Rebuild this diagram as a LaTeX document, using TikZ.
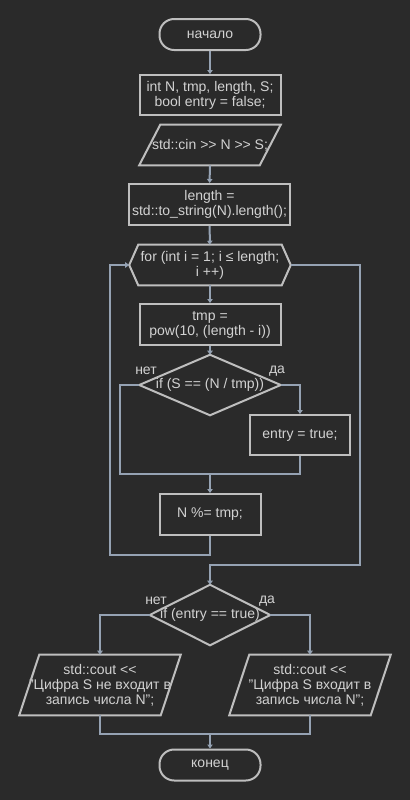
\documentclass[tikz,border=0pt]{standalone}
\usepackage{fontspec}
\setmainfont{Liberation Sans}
\usetikzlibrary{calc,arrows.meta}
\definecolor{bg}{HTML}{2A2A2A}
\definecolor{outline}{HTML}{BEBEBE}
\definecolor{wire}{HTML}{95A2B3}
\definecolor{ink}{HTML}{D2D2D2}
\begin{document}
\begin{tikzpicture}[x=0.75pt,y=-0.75pt,
  every node/.style={text=ink,font=\fontsize{10.5}{11.3}\selectfont,align=center,inner sep=0pt},
  blk/.style={draw=outline,line width=1.5pt,minimum width=#1*0.75pt},
  ghost/.style n args={2}{draw=none,minimum width=#1*0.75pt,minimum height=#2*0.75pt},
  term/.style={draw=outline,line width=1.5pt,rounded corners=11pt,minimum width=101*0.75pt,minimum height=31*0.75pt},
  outl/.style={draw=outline,line width=1.5pt,line join=miter},
  wirel/.style={draw=wire,line width=1.5pt},
  arr/.style={wirel,-{Triangle[length=3pt,width=4pt]}},
  lbl/.style={text=ink}
]
\fill[bg] (0,0) rectangle (410,800);
\useasboundingbox (0,0) rectangle (410,800);

% start / declarations / input
\node[term] (start) at (210,34.5) {начало};
\node[blk=141,minimum height=40*0.75pt] (decl) at (210,95) {int N, tmp, length, S;\\bool entry = false;};
\node[ghost={141}{40}] (input) at (210,145) {std::cin >{}> N >{}> S;};
\draw[outl] ($(input.north west)+(21,0)$) -- (input.north east) -- ($(input.south east)+(-21,0)$) -- (input.south west) -- cycle;
\node[blk=161,minimum height=41*0.75pt] (len) at (209.5,204.5) {length =\\std::to\_string(N).length();};

% loop header
\node[ghost={161}{40}] (loop) at (210,265) {for (int i = 1; i ≤ length;\\i ++)};
\draw[outl] ($(loop.north west)+(9,0)$) -- ($(loop.north east)+(-9,0)$) -- (loop.east) -- ($(loop.south east)+(-9,0)$) -- ($(loop.south west)+(9,0)$) -- (loop.west) -- cycle;

% loop body
\node[blk=141,minimum height=41*0.75pt] (pow) at (210,324.5) {tmp =\\pow(10, (length - i))};
\node[ghost={141}{60}] (test) at (210,385) {if (S == (N / tmp))};
\draw[outl] (test.north) -- (test.east) -- (test.south) -- (test.west) -- cycle;
\node[lbl] at (146,371) {нет};
\node[lbl] at (277,371) {да};
\node[blk=100,minimum height=40*0.75pt] (found) at (300,435) {entry = true;};
\node[blk=101,minimum height=41*0.75pt] (mod) at (210,514.5) {N \%= tmp;};

% result
\node[ghost={120}{60}] (res) at (210,615) {if (entry == true)};
\draw[outl] (res.north) -- (res.east) -- (res.south) -- (res.west) -- cycle;
\node[lbl] at (156,601) {нет};
\node[lbl] at (267,601) {да};
\node[ghost={161}{60}] (no) at (100,685) {std::cout <{}<\\"Цифра S не входит в\\запись числа N";};
\draw[outl] ($(no.north west)+(20,0)$) -- (no.north east) -- ($(no.south east)+(-20,0)$) -- (no.south west) -- cycle;
\node[ghost={161}{60}] (yes) at (310,685) {std::cout <{}<\\"Цифра S входит в\\запись числа N";};
\draw[outl] ($(yes.north west)+(20,0)$) -- (yes.north east) -- ($(yes.south east)+(-20,0)$) -- (yes.south west) -- cycle;
\node[term] (stop) at (210,765) {конец};

% connectors
\draw[arr] (start) -- (decl);
\draw[arr] (input) -- (len);
\draw[arr] (len) -- (loop);
\draw[arr] (loop) -- (pow);
\draw[arr] (pow) -- (test.north);
\draw[arr] (test.east) -| (found.north);
\coordinate (mergeA) at (210,474);
\draw[wirel] (test.west) -| (120,474) -- (300,474) -- (found.south);
\draw[arr] (mergeA) -- (mod);
\draw[arr] (mod.south) -- (210,555) -| (110,265) -- (loop.west);
\draw[arr] (loop.east) -| (360,565) -| (res.north);
\draw[arr] (res.west) -| (no.north);
\draw[arr] (res.east) -| (yes.north);
\coordinate (mergeB) at (210,734);
\draw[wirel] (no.south) |- (mergeB) -| (yes.south);
\draw[arr] (mergeB) -- (stop);
\end{tikzpicture}
\end{document}
